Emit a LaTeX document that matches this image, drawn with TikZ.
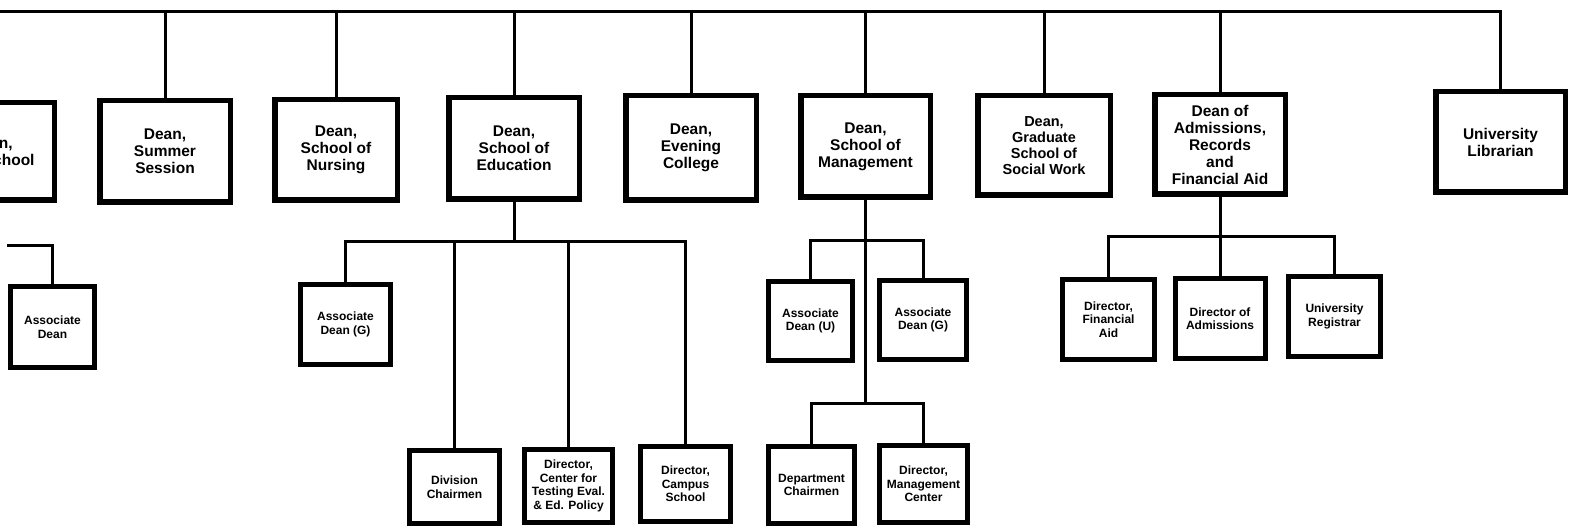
\documentclass[tikz,border=0pt]{standalone}
\usepackage{fontspec}
\setmainfont{Liberation Sans}
\begin{document}
\begin{tikzpicture}[x=1pt,y=-1pt,
  conn/.style={line width=3pt,line cap=rect},
  bigbox/.style={draw,line width=5.5pt,inner sep=0pt,align=center,fill=white,
    font=\fontsize{15.5}{17}\selectfont\bfseries},
  midbox/.style={bigbox,font=\fontsize{14.5}{15.8}\selectfont\bfseries},
  smallbox/.style={draw,line width=5pt,inner sep=0pt,align=center,fill=white,
    font=\fontsize{12}{13.5}\selectfont\bfseries}]
\useasboundingbox (0,0) rectangle (1580,529);
\clip (0,0) rectangle (1580,529);
% top row
\node[bigbox,minimum width=125.5,minimum height=97.5] (law) at (-8.5,151.5) {Dean,\\Law School};
\node[bigbox,minimum width=130.5,minimum height=101.5] (sum) at (165,151.5) {Dean,\\Summer\\Session};
\node[bigbox,minimum width=122.5,minimum height=100.5] (nur) at (336,150) {Dean,\\School of\\Nursing};
\node[bigbox,minimum width=130.5,minimum height=101.5] (edu) at (514,148.5) {Dean,\\School of\\Education};
\node[bigbox,minimum width=130.5,minimum height=104.5] (eve) at (691,148) {Dean,\\Evening\\College};
\node[bigbox,minimum width=129.5,minimum height=101.5] (mgt) at (865.5,146.5) {Dean,\\School of\\Management};
\node[midbox,minimum width=132.5,minimum height=99.5] (sw) at (1044,145.5) {Dean,\\Graduate\\School of\\Social Work};
\node[bigbox,minimum width=130.5,minimum height=99.5] (adm) at (1220,144.5) {Dean of\\Admissions,\\Records\\and\\Financial Aid};
\node[bigbox,minimum width=129.5,minimum height=100.5] (lib) at (1500.5,142) {University\\Librarian};
% second level
\node[smallbox,minimum width=84,minimum height=81] (aL) at (52.5,327) {Associate\\Dean};
\node[smallbox,minimum width=90,minimum height=80] (aEG) at (345.5,324.5) {Associate\\Dean (G)};
\node[smallbox,minimum width=90,minimum height=73] (div) at (454.5,487) {Division\\Chairmen};
\node[smallbox,minimum width=88,minimum height=73] (ctr) at (568.5,486) {Director,\\Center for\\Testing Eval.\\\& Ed. Policy};
\node[smallbox,minimum width=90,minimum height=75] (cmp) at (685.5,484) {Director,\\Campus\\School};
\node[smallbox,minimum width=84,minimum height=79] (aU) at (810.5,321) {Associate\\Dean (U)};
\node[smallbox,minimum width=87,minimum height=79] (aMG) at (923,320) {Associate\\Dean (G)};
\node[smallbox,minimum width=86,minimum height=77] (dep) at (811.5,485) {Department\\Chairmen};
\node[smallbox,minimum width=88,minimum height=77] (dmc) at (923.5,484) {Director,\\Management\\Center};
\node[smallbox,minimum width=92,minimum height=80] (fin) at (1108.5,319.5) {Director,\\Financial\\Aid};
\node[smallbox,minimum width=90,minimum height=80] (dad) at (1220,318.5) {Director of\\Admissions};
\node[smallbox,minimum width=92,minimum height=80] (reg) at (1334.5,316.5) {University\\Registrar};
% bus coordinates
\coordinate (tl) at (0,12);
\coordinate (lbus) at (0,246);
\coordinate (lstart) at (8,246);
\coordinate (ebus) at (0,242);
\coordinate (mbus1) at (0,241);
\coordinate (mbus2) at (0,403);
\coordinate (abus) at (0,237);
% top connectors
\draw[conn] (tl) -| (lib.north);
\foreach \n in {law,sum,nur,edu,eve,mgt,sw,adm}
  \draw[conn] (\n.north) -- (\n.north |- tl);
% law school
\draw[conn] (lstart) -| (aL.north);
% education
\draw[conn] (edu.south) -- (edu.south |- ebus);
\draw[conn] (aEG.north) |- (cmp.north |- ebus) -- (cmp.north);
\draw[conn] (div.north) -- (div.north |- ebus);
\draw[conn] (ctr.north) -- (ctr.north |- ebus);
% management
\draw[conn] (mgt.south) -- (mgt.south |- mbus2);
\draw[conn] (aU.north) |- (aMG.north |- mbus1) -- (aMG.north);
\draw[conn] (dep.north) |- (dmc.north |- mbus2) -- (dmc.north);
% admissions
\draw[conn] (adm.south) -- (adm.south |- abus);
\draw[conn] (fin.north) |- (reg.north |- abus) -- (reg.north);
\draw[conn] (dad.north) -- (dad.north |- abus);
\end{tikzpicture}
\end{document}
